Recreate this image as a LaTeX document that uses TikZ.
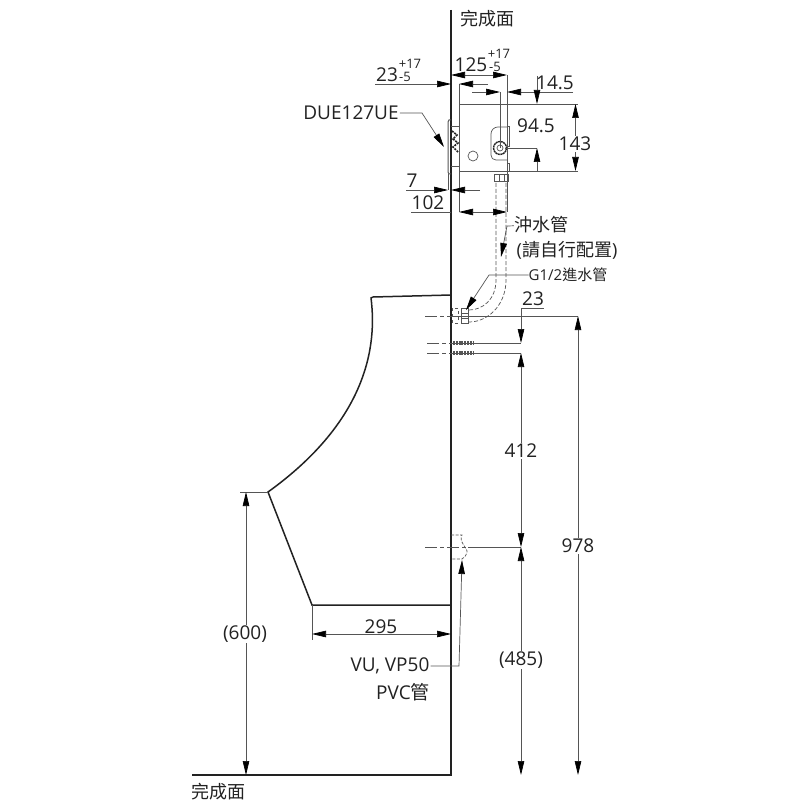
\documentclass[tikz,border=0pt]{standalone}
\usepackage{fontspec}
\setmainfont{Open Sans}
\newfontfamily\cjk{Noto Sans CJK TC}
\usetikzlibrary{arrows.meta}

\definecolor{inkdark}{HTML}{222222}
\definecolor{thinline}{HTML}{555555}
\tikzstyle{wall} = [draw=inkdark,line width=2.4pt]
\tikzstyle{body} = [draw=inkdark,line width=1.5pt]
\tikzstyle{part} = [draw=thinline,line width=0.7pt]
\tikzstyle{hidden} = [draw=thinline,line width=0.7pt,dash pattern=on 4pt off 2pt]
\tikzstyle{center} = [draw=thinline,line width=0.7pt,dash pattern=on 12pt off 3pt on 4pt off 3pt]
\tikzstyle{ext} = [draw=thinline,line width=0.7pt]
\tikzstyle{tip} = [draw=thinline,line width=0.7pt,-{Stealth[length=14pt,width=6.5pt,inset=0pt,color=black]}]
\tikzstyle{dim} = [font=\fontsize{19}{19}\selectfont,text=inkdark,inner sep=1pt]
\tikzstyle{dimfill} = [dim,fill=white]
\tikzstyle{tol} = [font=\fontsize{13}{13}\selectfont,text=inkdark,inner sep=0pt]
\tikzstyle{note} = [font=\fontsize{18}{18}\selectfont,text=inkdark,inner sep=0pt]

\begin{document}
\begin{tikzpicture}[x=1pt,y=-1pt]
     \useasboundingbox[fill=white] (0,0) rectangle (800,810);
     % Named points, top of the wall first
     \foreach \pos/\name in {{(451,10)/walltop},{(451,775)/wallfoot},{(192,775)/floorend},
       {(375,84)/a},{(451,84)/b},{(488,84)/c},{(459,84)/d},
       {(479,75)/e},{(451,75)/f},{(507,75)/g},
       {(472,92)/h},{(500,92)/i},{(573,92)/j},{(507,92)/k},
       {(537,76)/l},{(537,104)/m},{(537,171)/n},{(537,148)/o},
       {(575.5,137)/p},{(575.5,104)/q},{(575.5,171)/r},
       {(406,190)/s},{(448,190)/t},{(480,190)/u},{(451,190)/v},
       {(480,212)/w},{(459,212)/x},{(507,212)/y},{(411,212)/z},
       {(451,212)/za},{(521,308)/zb},{(544,308)/zc},{(521,343)/zd},
       {(521,450)/ze},{(521,353)/zf},{(521,547)/zg},{(521,660)/zh},{(521,775)/zi},
       {(578,546)/zj},{(578,316)/zk},{(578,775)/zl},
       {(381,634)/zm},{(312,634)/zn},{(451,634)/zo},
       {(246,634)/zp},{(246,492)/zq},{(246,775)/zr},
       {(240,492)/zs},{(268,492)/zt},{(312,605)/zu},{(312,640)/zv},
       {(459,104)/zw},{(507,104)/zx},{(578,104)/zy},{(507,171)/zz},
       {(578,171)/ya},{(505,148)/yb},{(448,174)/yc},{(459,171)/yd},
       {(500,148)/ye},{(451,316)/yf},{(452,343)/yg},{(452,353)/yh},{(468,547)/yi}}
     \node[coordinate] (\name) at \pos {};

     % Wall, floor and the urinal
     \draw[wall] (walltop) -- (wallfoot) -- (floorend);
     \draw[body] (451,295) -- (373,297) -- (371,298)
       .. controls (377,345) and (368,420) .. (zt) -- (zu) -- (451,605);

     % Valve box
     \draw[part] (zw) rectangle (zz);
     \draw[part] (507,127) -- (498,127) .. controls (494,127) and (491,130) .. (491,134)
       -- (491,155) .. controls (491,158) and (493,160) .. (496,160) -- (507,160);
     \draw[part] (473,156) circle (5);
     \draw[draw=inkdark,line width=1.4pt,dash pattern=on 2pt off 0.6pt] (500,148) circle (6.5);
     \draw[part] (500,148) circle (3);
     \draw[part] (507,126) -- (509,126) -- (509,146) -- (507,146);
     \draw[part] (507,163) -- (509,163) -- (509,171) -- (507,171);
     % Wall plate and sensor
     \draw[part,line width=1pt] (451,120) -- (449,120) -- (448,122) -- (448,172) -- (449,174) -- (451,174);
     \draw[part] (451,126) -- (459,126) (451,166) -- (459,166);
     \draw[draw=inkdark,line width=1.6pt,dash pattern=on 2pt off 1pt]
       (452,131) -- (457,135) -- (453,139) -- (458,143) -- (453,147) -- (458,152);
     % Coupling under the box
     \draw[part,line width=1pt] (494,175) rectangle (508,182) (499,175) -- (499,182) (504,175) -- (504,182);

     % Flush pipe
     \draw[hidden] (496,183) -- (496,280) .. controls (496,300) and (482,310) .. (469,310);
     \draw[hidden] (506,183) -- (506,280) .. controls (506,305) and (488,322) .. (469,322);
     % Inlet fittings
     \draw[part,dashed] (452,308) rectangle (458,323);
     \draw[part,line width=1pt] (461,308) rectangle (468,323) (461,313) -- (468,313) (461,318) -- (468,318);

     % Drain
     \draw[hidden,dash pattern=on 3pt off 1.5pt] (451,535) -- (462,535)
       .. controls (458,541) and (468,549) .. (467,552) .. controls (466,556) and (464,558) .. (462,559) -- (451,559);

     % Centre lines
     \draw[center] (425,316) -- (yf);
     \draw[center] (427,343) -- (yg);
     \draw[center] (427,353) -- (yh);
     \draw[center] (425,547) -- (yi);

     % Extension lines
     \foreach \source/\dest in {zs/zt,zu/zv,d/zw,g/zx,zx/zy,zz/ya,yb/o,yc/t,yd/x,
       zz/y,i/ye,zb/zc,yf/zk,z/za,yg/zd,yh/zf,yi/zg}
     \path[ext] (\source) -- (\dest);

     % Pipe nuts
     \draw[draw=thinline,line width=3.4pt,dash pattern=on 2pt off 0.8pt] (453,343) -- (474,343) (453,353) -- (474,353);

     % Dimension lines with one tip each
     \foreach \source/\dest in {a/b,c/d,e/f,e/g,h/i,j/k,l/m,n/o,p/q,p/r,s/t,u/v,w/x,w/y,
       zb/zd,ze/zf,ze/zg,zh/zg,zh/zi,zj/zk,zj/zl,zm/zn,zm/zo,zp/zq,zp/zr}
     \path[tip] (\source) -- (\dest);

     % Labels
     \node[dim] (d23) at (387,75) {23};
     \node[tol] (d23up) at (410,64) {+17};
     \node[tol] (d23low) at (405,77) {-5};
     \node[dim] (d125) at (471,65) {125};
     \node[tol] (d125up) at (499,54) {+17};
     \node[tol] (d125low) at (495,67) {-5};
     \node[dim] (d14) at (555,83) {14.5};
     \node[dimfill] (d94) at (536,126) {94.5};
     \node[dimfill] (d143) at (575,144) {143};
     \node[dim] (d7) at (412,181) {7};
     \node[dim] (d102) at (428,203) {102};
     \node[dim] (d23b) at (533,299) {23};
     \node[dimfill] (d412) at (521,451) {412};
     \node[dimfill] (d485) at (521,660) {(485)};
     \node[dimfill] (d978) at (578,546) {978};
     \node[dim] (d295) at (381,627) {295};
     \node[dimfill] (d600) at (245,634) {(600)};

     \node[note] (topface) at (487,19) {\cjk 完成面};
     \node[note] (footface) at (218,792) {\cjk 完成面};
     \node[dim] (sensor) at (351,113) {DUE127UE};
     \node[note] (flush) at (541,225) {\cjk 沖水管};
     \node[note] (self) at (567,250) {(\cjk 請自行配置\rmfamily)};
     \node[note,font=\fontsize{15}{15}\selectfont] (inlet) at (568,275) {G1/2\cjk 進水管};
     \node[dim] (vu) at (390,666) {VU, VP50};
     \node[dim] (pvc) at (403,692) {PVC\cjk 管};

     % Leaders
     \coordinate (sensorbend) at (422,113);
     \coordinate (sensortip) at (444,147);
     \coordinate (flushbend) at (507,226);
     \coordinate (flushtip) at (501,257);
     \coordinate (inletbend) at (489,275);
     \coordinate (inlettip) at (466,310);
     \coordinate (vubend) at (459,666);
     \coordinate (vutip) at (462,560);
     \draw[tip] (sensor) -- (sensorbend) -- (sensortip);
     \draw[tip] (flush) -- (flushbend) -- (flushtip);
     \draw[tip] (inlet) -- (inletbend) -- (inlettip);
     \draw[tip] (vu) -- (vubend) -- (vutip);
 \end{tikzpicture}
\end{document}
